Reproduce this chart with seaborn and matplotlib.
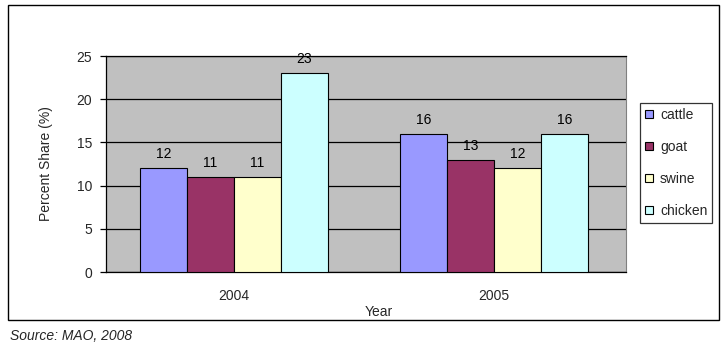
import matplotlib
matplotlib.use("Agg")
import matplotlib.pyplot as plt
import seaborn as sns
import pandas as pd
from matplotlib.patches import Rectangle

years = ["2004", "2005"]
animals = ["cattle", "goat", "swine", "chicken"]
cattle = [12, 16]
goat = [11, 13]
swine = [11, 12]
chicken = [23, 16]
colors = ["#9999FF", "#993366", "#FFFFCC", "#CCFFFF"]

rows = []
for name, vals in zip(animals, [cattle, goat, swine, chicken]):
    for y, v in zip(years, vals):
        rows.append({"Year": y, "animal": name, "value": v})
df = pd.DataFrame(rows)

sns.set_style("white")
plt.rcParams["font.family"] = ["Liberation Sans", "DejaVu Sans"]

fig = plt.figure(figsize=(7.27, 3.5), dpi=100)
ax = fig.add_axes([106/727, 1-272/350, 520/727, 216/350])
ax.set_facecolor("#C0C0C0")

sns.barplot(data=df, x="Year", y="value", hue="animal", hue_order=animals,
            palette=colors, width=0.723, edgecolor="black", linewidth=0.8,
            saturation=1, ax=ax, legend=True, zorder=3)

for c in ax.containers:
    ax.bar_label(c, fmt="%g", padding=5, fontsize=10, color="black")

ax.set_xlim(-0.492, 1.508)
ax.set_ylim(0, 25)
ax.set_yticks([0, 5, 10, 15, 20, 25])
ax.yaxis.grid(True, color="black", linewidth=0.9, zorder=0)
ax.set_axisbelow(True)
ax.tick_params(axis="y", direction="out", length=4, width=0.9, color="black",
               labelsize=10, pad=6, left=True)
ax.tick_params(axis="x", length=0, labelsize=10, pad=12)
ax.set_xlabel("Year", fontsize=10, labelpad=2)
ax.set_ylabel("Percent Share (%)", fontsize=10)
ax.yaxis.set_label_coords(-0.102, 0.5)
for s in ["left", "bottom"]:
    ax.spines[s].set_color("black")
    ax.spines[s].set_linewidth(0.9)
ax.spines["right"].set_color("#808080")
ax.spines["top"].set_color("black")
ax.spines["top"].set_linewidth(0.9)
ax.xaxis.set_label_coords(0.525, -0.155)

h, l = ax.get_legend_handles_labels()
ax.legend(h, l, loc="center left", bbox_to_anchor=(640/727, 1-163/350),
          bbox_transform=fig.transFigure, frameon=True, fancybox=False,
          edgecolor="black", fontsize=10, handlelength=0.55, handleheight=0.55,
          handletextpad=0.55, labelspacing=1.3, borderpad=0.35,
          borderaxespad=0)
ax.get_legend().get_frame().set_linewidth(0.9)

fig.patches.append(Rectangle((8/727, 1-320/350), 711/727, 315/350,
                             transform=fig.transFigure, fill=False,
                             edgecolor="black", linewidth=1))
fig.text(10/727, 1-336/350, "Source: MAO, 2008", fontsize=10, style="italic",
         va="center", ha="left")

fig.savefig("out.png", dpi=100)
